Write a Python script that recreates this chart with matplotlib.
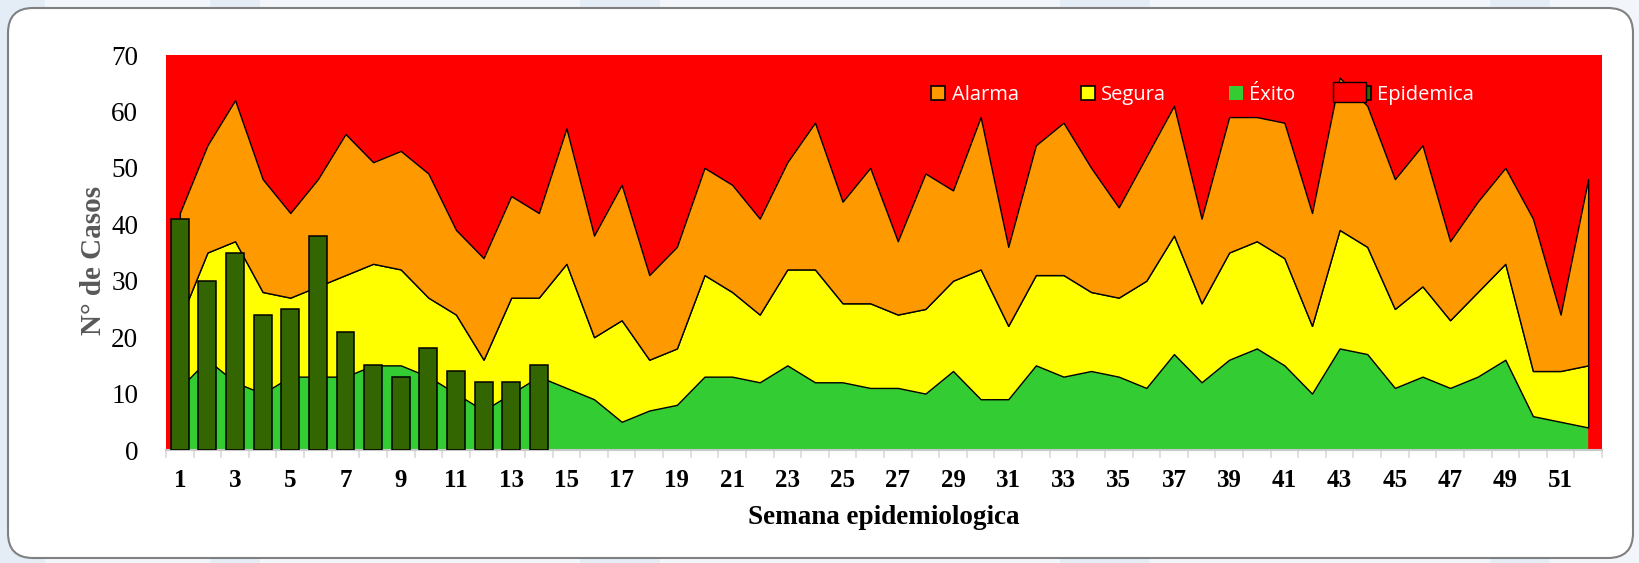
import matplotlib
matplotlib.use("Agg")
import matplotlib.pyplot as plt
import numpy as np
from matplotlib.patches import FancyBboxPatch, Patch, Rectangle

# canal endemico: upper limit of each zone per epidemiological week
weeks = np.arange(1, 53)
exito = [11, 16, 12, 10, 13, 13, 13, 15, 15, 13, 10, 7, 10, 13, 11, 9, 5, 7, 8, 13,
         13, 12, 15, 12, 12, 11, 11, 10, 14, 9, 9, 15, 13, 14, 13, 11, 17, 12, 16, 18,
         15, 10, 18, 17, 11, 13, 11, 13, 16, 6, 5, 4]
segura = [23, 35, 37, 28, 27, 29, 31, 33, 32, 27, 24, 16, 27, 27, 33, 20, 23, 16, 18, 31,
          28, 24, 32, 32, 26, 26, 24, 25, 30, 32, 22, 31, 31, 28, 27, 30, 38, 26, 35, 37,
          34, 22, 39, 36, 25, 29, 23, 28, 33, 14, 14, 15]
alarma = [42, 54, 62, 48, 42, 48, 56, 51, 53, 49, 39, 34, 45, 42, 57, 38, 47, 31, 36, 50,
          47, 41, 51, 58, 44, 50, 37, 49, 46, 59, 36, 54, 58, 50, 43, 52, 61, 41, 59, 59,
          58, 42, 66, 61, 48, 54, 37, 44, 50, 41, 24, 48]

# cases reported so far this year
casos = [41, 30, 35, 24, 25, 38, 21, 15, 13, 18, 14, 12, 12, 15]
case_weeks = np.arange(1, len(casos) + 1)

zone_labels = ["Alarma", "Segura", "Éxito", "Epidemica"]

RED = "#FF0000"
ORANGE = "#FF9900"
YELLOW = "#FFFF00"
GREEN = "#33CC33"
BAR_GREEN = "#336600"
SERIF = "Liberation Serif"

fig = plt.figure(figsize=(16.39, 5.63), dpi=100)
fig.patch.set_facecolor("#f2f6fa")

# pale slide stripes peeking out around the card
for x0, w in [(0.0, 0.45), (2.1, 0.5), (5.8, 0.8), (10.6, 0.9), (14.9, 0.6)]:
    fig.patches.append(Rectangle((x0, 0), w, 5.63, transform=fig.dpi_scale_trans,
                                 facecolor="#e4ecf6", edgecolor="none", zorder=-6))

# rounded white card behind the chart
card = FancyBboxPatch((0.08, 0.05), 16.25, 5.50,
                      boxstyle="round,pad=0,rounding_size=0.25",
                      transform=fig.dpi_scale_trans,
                      facecolor="white", edgecolor="#808080", linewidth=1.5,
                      zorder=-5)
fig.patches.append(card)

ax = fig.add_axes([0.1013, 0.2007, 0.8761, 0.7016])
ax.set_facecolor(RED)

ax.fill_between(weeks, 0, exito, facecolor=GREEN, edgecolor="none", zorder=2)
ax.fill_between(weeks, exito, segura, facecolor=YELLOW, edgecolor="black",
                linewidth=1.0, zorder=2)
ax.fill_between(weeks, segura, alarma, facecolor=ORANGE, edgecolor="black",
                linewidth=1.0, zorder=2)
ax.bar(case_weeks, casos, width=0.65, color=BAR_GREEN, edgecolor="black",
       linewidth=1.1, zorder=3)

ax.set_xlim(0.5, 52.5)
ax.set_ylim(0, 70)

odd_weeks = np.arange(1, 53, 2)
ax.set_xticks(odd_weeks)
ax.set_xticklabels([str(w) for w in odd_weeks], fontfamily=SERIF,
                   fontweight="bold", fontsize=18)
ax.set_xticks(np.arange(0.5, 53, 1), minor=True)
ax.set_yticks(np.arange(0, 71, 10))
ax.set_yticklabels([str(v) for v in range(0, 71, 10)], fontfamily=SERIF,
                   fontsize=19.5)

ax.tick_params(axis="x", which="major", length=0, pad=14)
ax.tick_params(axis="x", which="minor", length=6, width=1.2, color="#d9d9d9")
ax.tick_params(axis="y", length=0, pad=20)

for side in ["top", "right", "left"]:
    ax.spines[side].set_visible(False)
ax.spines["bottom"].set_color("#c8c8c8")
ax.spines["bottom"].set_linewidth(1.5)

ax.set_xlabel("Semana epidemiologica", fontfamily=SERIF, fontweight="bold",
              fontsize=19.5)
ax.xaxis.set_label_coords(0.5, -0.14)
ax.set_ylabel("N° de Casos", fontfamily=SERIF, fontweight="bold", fontsize=21,
              color="#595959")
ax.yaxis.set_label_coords(-0.041, 0.48)

handles = [
    Patch(facecolor=ORANGE, edgecolor="black", linewidth=1.2),
    Patch(facecolor=YELLOW, edgecolor="black", linewidth=1.2),
    Patch(facecolor=GREEN, edgecolor="none"),
    Patch(facecolor=BAR_GREEN, edgecolor="black", linewidth=1.2),
]
leg = ax.legend(handles, zone_labels, ncol=4, loc="center left",
                bbox_to_anchor=(0.533, 0.899), frameon=False, borderpad=0,
                borderaxespad=0, handlelength=0.7, handleheight=0.7,
                handletextpad=0.3, columnspacing=3.1,
                prop={"family": "Open Sans", "size": 14.5})
for txt in leg.get_texts():
    txt.set_color("white")

# red swatch laid over the last legend key
ax.add_patch(Rectangle((0.8127, 0.881), 0.023, 0.0506, transform=ax.transAxes,
                       facecolor=RED, edgecolor="black", linewidth=1.0,
                       zorder=6, clip_on=False))

fig.savefig("out.png", dpi=100, facecolor=fig.get_facecolor())
plt.close(fig)
